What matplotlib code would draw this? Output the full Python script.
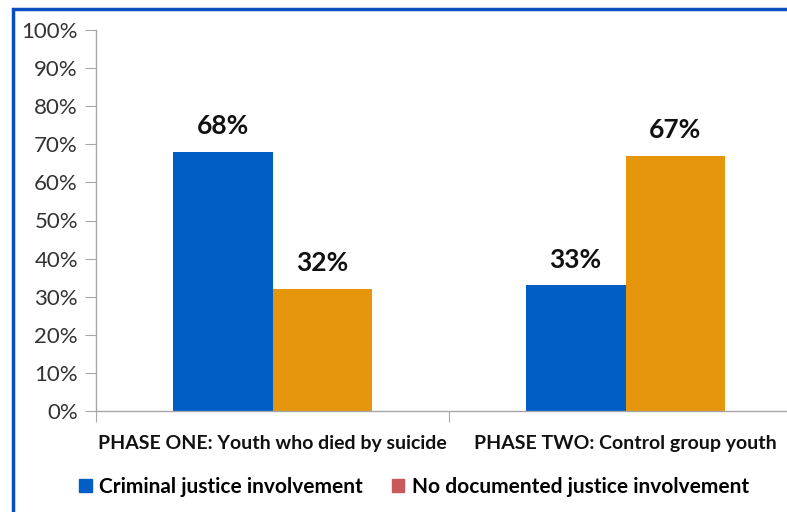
import matplotlib.pyplot as plt
from matplotlib.patches import Patch, Rectangle
import numpy as np

# Data
categories = ["PHASE ONE: Youth who died by suicide", "PHASE TWO: Control group youth"]
criminal = [68, 33]
no_documented = [32, 67]
series_names = ["Criminal justice involvement", "No documented justice involvement"]
yticks = [0, 10, 20, 30, 40, 50, 60, 70, 80, 90, 100]

blue = "#005EC4"
orange = "#E6960A"
legend_red = "#C9585A"
axis_gray = "#A6A6A6"

plt.rcParams['font.family'] = ['Lato', 'DejaVu Sans']

fig = plt.figure(figsize=(7.87, 5.12), dpi=100)
ax = fig.add_axes([96 / 787, (512 - 411) / 512, (802 - 96) / 787, 381 / 512])

x = np.arange(len(categories))
w = 0.283
ax.bar(x - w / 2, criminal, w, color=blue)
ax.bar(x + w / 2, no_documented, w, color=orange)

for xi, v in zip(x - w / 2, criminal):
    ax.text(xi, v + 3.6, f"{v}%", ha="center", va="bottom", fontsize=19, fontweight="bold", color="#111111")
for xi, v in zip(x + w / 2, no_documented):
    ax.text(xi, v + 3.6, f"{v}%", ha="center", va="bottom", fontsize=19, fontweight="bold", color="#111111")

ax.set_xlim(-0.5, 1.5)
ax.set_ylim(0, 100)
ax.set_yticks(yticks)
ax.set_yticklabels([f"{t}%" for t in yticks], fontsize=16, color="#333333")

# category boundaries as ticks, labels centered
ax.set_xticks([-0.5, 0.5, 1.5])
ax.set_xticklabels([])
ax.set_xticks(x, minor=True)
ax.set_xticklabels(categories, minor=True, fontsize=14, fontweight="bold", color="#111111")
ax.tick_params(axis="x", which="minor", length=0, pad=17)
ax.tick_params(axis="x", which="major", length=8, color=axis_gray, direction="out")
ax.tick_params(axis="y", length=8, color=axis_gray, direction="out", pad=5)

for s in ["top", "right"]:
    ax.spines[s].set_visible(False)
for s in ["left", "bottom"]:
    ax.spines[s].set_color(axis_gray)
    ax.spines[s].set_linewidth(1)

handles = [Patch(color=blue), Patch(color=legend_red)]
fig.legend(handles, series_names, loc="center", bbox_to_anchor=(414 / 787, 1 - 487 / 512),
           ncol=2, frameon=False, handlelength=0.6, handleheight=0.6,
           handletextpad=0.35, columnspacing=1.4, prop={"weight": "bold", "size": 15})

# blue frame around the figure area
fig.add_artist(Rectangle((13 / 787, -0.1), 1.2, 1 - 9 / 512 + 0.1, transform=fig.transFigure,
                         fill=False, edgecolor="#0A4DBE", linewidth=2.5))

fig.savefig("out.png", dpi=100)
